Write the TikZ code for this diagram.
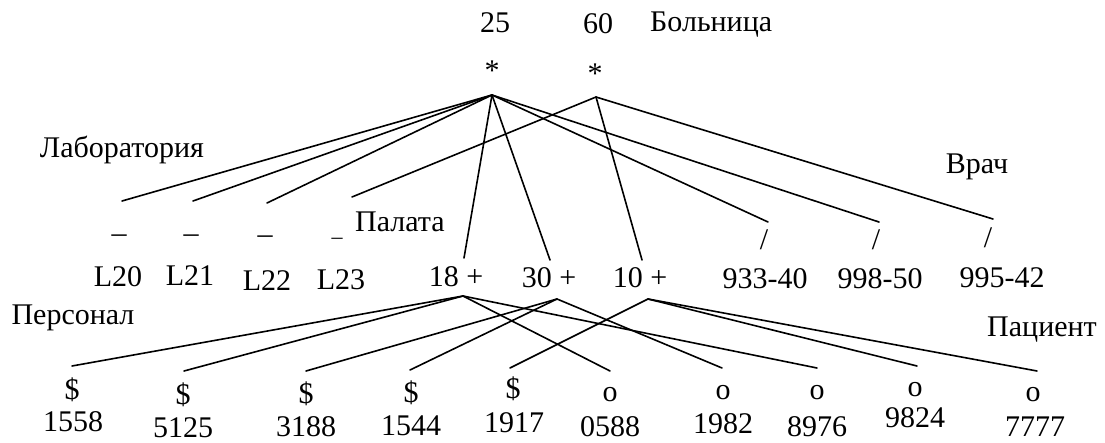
\documentclass[tikz,border=0pt]{standalone}
\usepackage{fontspec}
\setmainfont{Liberation Serif}
\begin{document}
\begin{tikzpicture}[x=1pt,y=-1pt,
  lbl/.style={font=\fontsize{30}{35}\selectfont, inner sep=0pt},
  conn/.style={line width=1.6pt, line cap=round}]
\useasboundingbox (0,0) rectangle (1105,443);
% top
\node[lbl] (n25) at (495,23) {25};
\node[lbl] (n60) at (598,24) {60};
\node[lbl,anchor=west] (hosp) at (650,25) {Больница};
\node[lbl] (s1) at (492,71) {*};
\node[lbl] (s2) at (595,74) {*};
\coordinate (a1) at (492,95);
\coordinate (a2) at (596,97);
% entity labels
\node[lbl] (lab) at (122,150) {Лаборатория};
\node[lbl] (vrach) at (977,167) {Врач};
\node[lbl] (palata) at (400,222) {Палата};
\node[lbl] (pers) at (73,318) {Персонал};
\node[lbl] (pac) at (1042,330) {Пациент};
% laboratory keys
\node[lbl,anchor=base] (d20) at (119,233) {\_};
\node[lbl,anchor=base] (d21) at (191,233) {\_};
\node[lbl,anchor=base] (d22) at (265,234) {\_};
\node[font=\fontsize{22}{26}\selectfont,inner sep=0pt,anchor=base] (d23) at (337,237) {\_};
\node[lbl] (L20) at (118,277) {L20};
\node[lbl] (L21) at (190,276) {L21};
\node[lbl] (L22) at (267,281) {L22};
\node[lbl] (L23) at (341,280) {L23};
\coordinate (e20) at (122,201);
\coordinate (e21) at (193,201);
\coordinate (e22) at (267,203);
\coordinate (e23) at (352,197);
% wards
\node[lbl] (w18) at (456,277) {18 +};
\node[lbl] (w30) at (549,278) {30 +};
\node[lbl] (w10) at (640,278) {10 +};
\coordinate (t18) at (464,258);
\coordinate (t30) at (550,260);
\coordinate (t10) at (642,260);
\coordinate (b18) at (463,296);
\coordinate (b30) at (557,299);
\coordinate (b10) at (648,299);
% doctors
\node[lbl] (sl1) at (764,240) {/};
\node[lbl] (sl2) at (876,240) {/};
\node[lbl] (sl3) at (988,238) {/};
\node[lbl] (v1) at (765,279) {933-40};
\node[lbl] (v2) at (880,279) {998-50};
\node[lbl] (v3) at (1002,278) {995-42};
\coordinate (f1) at (768,222);
\coordinate (f2) at (879,222);
\coordinate (f3) at (993,219);
% personnel
\node[lbl] (p1) at (72,390) {\$};
\node[lbl] (p2) at (183,395) {\$};
\node[lbl] (p3) at (306,394) {\$};
\node[lbl] (p4) at (411,393) {\$};
\node[lbl] (p5) at (513,389) {\$};
\node[lbl] (q1) at (73,422) {1558};
\node[lbl] (q2) at (183,428) {5125};
\node[lbl] (q3) at (306,427) {3188};
\node[lbl] (q4) at (411,426) {1544};
\node[lbl] (q5) at (514,423) {1917};
\coordinate (g1) at (72,366);
\coordinate (g2) at (184,371);
\coordinate (g3) at (306,371);
\coordinate (g4) at (410,370);
\coordinate (g5) at (510,368);
% patients
\node[lbl] (o1) at (610,395) {o};
\node[lbl] (o2) at (723,393) {o};
\node[lbl] (o3) at (817,393) {o};
\node[lbl] (o4) at (915,390) {o};
\node[lbl] (o5) at (1033,395) {o};
\node[lbl] (r1) at (610,427) {0588};
\node[lbl] (r2) at (723,424) {1982};
\node[lbl] (r3) at (817,427) {8976};
\node[lbl] (r4) at (915,418) {9824};
\node[lbl] (r5) at (1035,427) {7777};
\coordinate (h1) at (610,371);
\coordinate (h2) at (722,368);
\coordinate (h3) at (817,368);
\coordinate (h4) at (917,366);
\coordinate (h5) at (1037,371);
% connectors upper
\draw[conn] (a1) -- (e20);
\draw[conn] (a1) -- (e21);
\draw[conn] (a1) -- (e22);
\draw[conn] (a1) -- (t18);
\draw[conn] (a1) -- (t30);
\draw[conn] (a1) -- (f1);
\draw[conn] (a1) -- (f2);
\draw[conn] (a2) -- (e23);
\draw[conn] (a2) -- (t10);
\draw[conn] (a2) -- (f3);
% connectors lower
\draw[conn] (b18) -- (g1);
\draw[conn] (b18) -- (g2);
\draw[conn] (b18) -- (h1);
\draw[conn] (b18) -- (h3);
\draw[conn] (b30) -- (g3);
\draw[conn] (b30) -- (g4);
\draw[conn] (b30) -- (h2);
\draw[conn] (b10) -- (g5);
\draw[conn] (b10) -- (h4);
\draw[conn] (b10) -- (h5);
\end{tikzpicture}
\end{document}
